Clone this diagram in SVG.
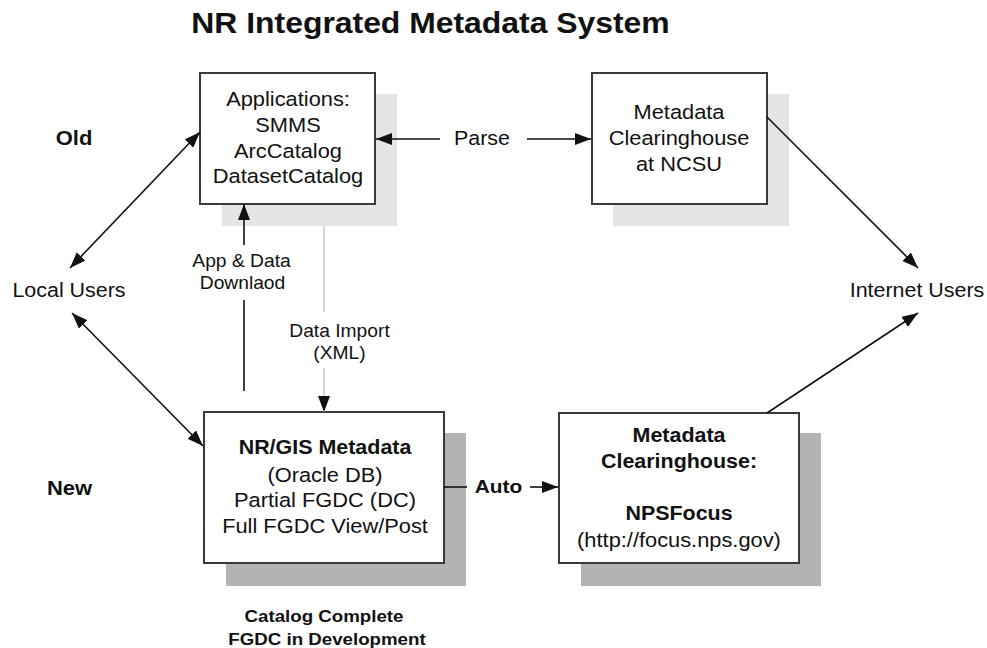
<svg xmlns="http://www.w3.org/2000/svg" width="987" height="648" viewBox="0 0 987 648">
<style>
text{font-family:"Liberation Sans",Arial,sans-serif;fill:#111;text-anchor:middle}
.t{font-size:19.5px}
.b{font-size:19.5px;font-weight:bold}
.s{font-size:17.5px}
.sb{font-size:17px;font-weight:bold}
.box{fill:#fff;stroke:#3a3a3a;stroke-width:2}
.shl{fill:#e5e5e5}
.shd{fill:#b3b3b3}
.ln{stroke:#111;stroke-width:1.6;fill:none}
.lg{stroke:#c8c8c8;stroke-width:1.4;fill:none}
</style>
<defs>
<marker id="ah" markerUnits="userSpaceOnUse" markerWidth="16" markerHeight="12" refX="16" refY="6" orient="auto-start-reverse">
<path d="M0,0 L16,6 L0,12 z" fill="#111"/>
</marker>
</defs>
<rect width="987" height="648" fill="#fff"/>
<text id="title" transform="translate(430.5,33) scale(1.1,1)" style="font-size:29px;font-weight:bold">NR Integrated Metadata System</text>
<text transform="translate(74,145) scale(1.1,1)" style="font-size:20px;font-weight:bold">Old</text>
<text transform="translate(69.5,495) scale(1.1,1)" style="font-size:20px;font-weight:bold">New</text>
<g id="local-users"><text class="t" transform="translate(69,297) scale(1.1,1)">Local Users</text></g>
<g id="internet-users"><text class="t" transform="translate(917,297) scale(1.1,1)">Internet Users</text></g>
<g id="applications">
<rect class="shl" x="222" y="94" width="175" height="132"/>
<rect class="box" x="200" y="73" width="175" height="131"/>
<text class="t" transform="translate(288,106) scale(1.12,1)">Applications:</text>
<text class="t" transform="translate(288,132) scale(1.12,1)">SMMS</text>
<text class="t" transform="translate(288,158) scale(1.12,1)">ArcCatalog</text>
<text class="t" transform="translate(288,183) scale(1.12,1)">DatasetCatalog</text>
</g>
<g id="ncsu">
<rect class="shl" x="613" y="94" width="176" height="132"/>
<rect class="box" x="592" y="73" width="175" height="131"/>
<text class="t" transform="translate(679,119) scale(1.12,1)">Metadata</text>
<text class="t" transform="translate(679,145) scale(1.12,1)">Clearinghouse</text>
<text class="t" transform="translate(679,171) scale(1.12,1)">at NCSU</text>
</g>
<g id="nrgis">
<rect class="shd" x="226" y="433" width="240" height="153"/>
<rect class="box" x="204" y="412" width="240" height="151"/>
<text class="b" transform="translate(325,454) scale(1.1,1)">NR/GIS Metadata</text>
<text class="t" transform="translate(325,482) scale(1.12,1)">(Oracle DB)</text>
<text class="t" transform="translate(325,507) scale(1.12,1)">Partial FGDC (DC)</text>
<text class="t" transform="translate(325,533) scale(1.12,1)">Full FGDC View/Post</text>
</g>
<g id="npsfocus">
<rect class="shd" x="581" y="433" width="240" height="153"/>
<rect class="box" x="559" y="413" width="240" height="150"/>
<text class="b" transform="translate(679,442) scale(1.1,1)">Metadata</text>
<text class="b" transform="translate(679,468) scale(1.1,1)">Clearinghouse:</text>
<text class="b" transform="translate(679,520) scale(1.1,1)">NPSFocus</text>
<text class="t" transform="translate(679,547) scale(1.12,1)">(http://focus.nps.gov)</text>
</g>
<g id="status">
<text class="sb" transform="translate(324,622) scale(1.1,1)">Catalog Complete</text>
<text class="sb" transform="translate(327,645) scale(1.1,1)">FGDC in Development</text>
</g>
<g id="connectors">
<line class="ln" x1="70" y1="268" x2="200" y2="132" marker-start="url(#ah)" marker-end="url(#ah)"/>
<line class="ln" x1="72" y1="313" x2="203" y2="446" marker-start="url(#ah)" marker-end="url(#ah)"/>
<line class="ln" x1="244" y1="391" x2="244" y2="300"/>
<line class="ln" x1="244" y1="245" x2="244" y2="204" marker-end="url(#ah)"/>
<text class="s" transform="translate(241.5,267) scale(1.1,1)">App &amp; Data</text>
<text class="s" transform="translate(242.5,289) scale(1.1,1)">Downlaod</text>
<line class="lg" x1="324" y1="226" x2="324" y2="312"/>
<line class="lg" x1="324" y1="368" x2="324" y2="412" marker-end="url(#ah)"/>
<text class="s" transform="translate(339.5,337) scale(1.1,1)">Data Import</text>
<text class="s" transform="translate(339.5,359) scale(1.1,1)">(XML)</text>
<line class="ln" x1="440" y1="139" x2="376" y2="139" marker-end="url(#ah)"/>
<line class="ln" x1="527" y1="139" x2="591" y2="139" marker-end="url(#ah)"/>
<text class="t" transform="translate(482,145) scale(1.1,1)">Parse</text>
<line class="ln" x1="767" y1="117" x2="918" y2="268" marker-end="url(#ah)"/>
<line class="ln" x1="767" y1="413" x2="918" y2="313" marker-end="url(#ah)"/>
<line class="ln" x1="444" y1="487" x2="467" y2="487"/>
<line class="ln" x1="530" y1="487" x2="558" y2="487" marker-end="url(#ah)"/>
<text style="font-size:19px;font-weight:bold" transform="translate(498.5,493) scale(1.1,1)">Auto</text>
</g>
</svg>
